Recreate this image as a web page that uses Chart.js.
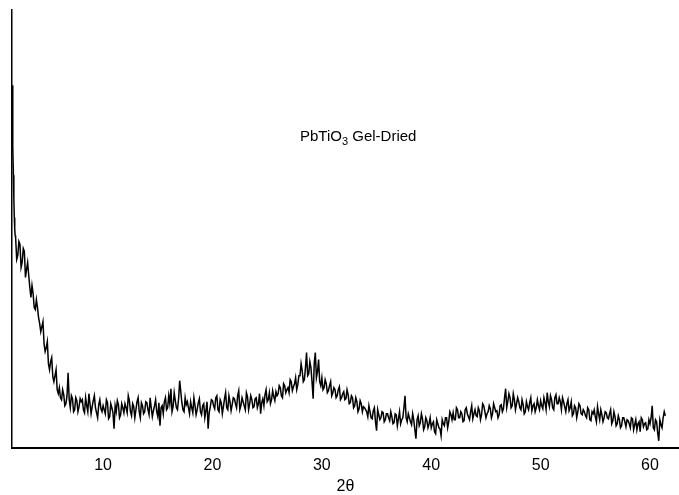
<!DOCTYPE html>
<html>
<head>
<meta charset="utf-8">
<script src="https://cdn.jsdelivr.net/npm/chart.js@4.4.1/dist/chart.umd.min.js"></script>
<style>
  html, body { margin: 0; padding: 0; background: #ffffff; }
  #wrap { position: relative; width: 679px; height: 495px; }
</style>
</head>
<body>
<div id="wrap"><canvas id="xrdChart"></canvas></div>
<script>
// Steep low-angle tail right at the axis
const headTheta = [1.68, 1.72, 1.76, 1.80, 1.84, 1.88, 1.92, 1.96];
const headCounts = [362, 330, 300, 272, 248, 230, 218, 212];

// Main scan, read every 0.2 deg from 2.0 deg
const scanStart = 2.0;
const scanStep = 0.2;
const scanCounts = [
  210, 192, 203, 185, 196, 178, 172, 150, 154, 138,   // 2.0 - 3.8
  140, 124, 121, 104, 100, 84, 86, 71, 72, 58,        // 4.0 - 5.8
  60, 48, 53, 44, 75, 40, 49, 38, 47, 41,             // 6.0 - 7.8
  46, 38, 50, 36, 44, 41, 52, 35, 43, 39,             // 8.0 - 9.8
  42, 34, 45, 31, 40, 19, 36, 43, 33, 40,             // 10.0 - 11.8
  44, 35, 47, 32, 41, 38, 50, 30, 42, 36,             // 12.0 - 13.8
  45, 33, 40, 37, 48, 31, 22, 42, 46, 38,             // 14.0 - 15.8
  52, 59, 41, 47, 38, 67, 45, 36, 43, 40,             // 16.0 - 17.8
  46, 35, 42, 38, 49, 33, 44, 37, 19, 41,             // 18.0 - 19.8
  47, 39, 52, 36, 45, 41, 55, 38, 46, 43,             // 20.0 - 21.8
  49, 40, 57, 42, 46, 38, 51, 44, 48, 41,             // 22.0 - 23.8
  50, 44, 34, 49, 53, 46, 55, 48, 51, 56,             // 24.0 - 25.8
  54, 60, 50, 62, 58, 55, 66, 61, 70, 63,             // 26.0 - 27.8
  72, 77, 68, 95, 74, 80, 49, 95, 76, 66,             // 28.0 - 29.8
  70, 60, 64, 57, 66, 55, 58, 52, 61, 50,             // 30.0 - 31.8
  56, 49, 53, 45, 50, 42, 46, 39, 44, 41,             // 32.0 - 33.8
  38, 31, 36, 29, 40, 17, 33, 30, 35, 28,             // 34.0 - 35.8
  34, 27, 31, 25, 33, 29, 24, 30, 52, 26,             // 36.0 - 37.8
  30, 23, 28, 9, 32, 25, 29, 21, 27, 24,              // 38.0 - 39.8
  20, 26, 14, 24, 19, 28, 22, 30, 26, 33,             // 40.0 - 41.8
  35, 28, 38, 30, 34, 27, 40, 31, 36, 29,             // 42.0 - 43.8
  38, 31, 37, 33, 42, 30, 36, 39, 34, 40,             // 44.0 - 45.8
  37, 33, 43, 39, 59, 46, 50, 42, 48, 44,             // 46.0 - 47.8
  46, 38, 43, 36, 41, 45, 37, 44, 40, 42,             // 48.0 - 49.8
  47, 39, 45, 55, 41, 48, 38, 53, 44, 46,             // 50.0 - 51.8
  50, 41, 44, 37, 46, 34, 40, 36, 42, 33,             // 52.0 - 53.8
  36, 30, 38, 27, 34, 31, 41, 28, 33, 30,             // 54.0 - 55.8
  35, 29, 38, 27, 31, 24, 28, 22, 30, 21,             // 56.0 - 57.8
  27, 20, 29, 23, 18, 26, 30, 21, 25, 19,             // 58.0 - 59.8
  24, 42, 18, 26, 7, 23, 30, 32                       // 60.0 - 61.4
];

// In-between readings, every 0.2 deg from 2.1 deg
const midStart = 2.1;
const midCounts = [
  188, 206, 180, 199, 170, 185, 160, 162, 140, 148,   // 2.1 - 3.9
  130, 116, 126, 96, 106, 78, 90, 66, 78, 54,         // 4.1 - 5.9
  50, 58, 42, 52, 48, 52, 36, 50, 36, 49,             // 6.1 - 7.9
  48, 35, 42, 54, 34, 47, 40, 30, 48, 36,             // 8.1 - 9.9
  38, 48, 29, 44, 35, 42, 47, 30, 44, 35,             // 10.1 - 11.9
  40, 52, 36, 44, 30, 46, 36, 45, 34, 46,             // 12.1 - 13.9
  38, 50, 31, 42, 36, 45, 40, 34, 50, 40,             // 14.1 - 15.9
  44, 36, 55, 40, 49, 56, 38, 50, 46, 34,             // 16.1 - 17.9
  40, 50, 33, 45, 36, 42, 30, 46, 35, 48,             // 18.1 - 19.9
  42, 50, 38, 48, 34, 49, 40, 52, 37, 50,             // 20.1 - 21.9
  44, 52, 38, 50, 42, 55, 38, 52, 40, 49,             // 22.1 - 23.9
  40, 54, 45, 42, 58, 48, 44, 57, 47, 52,             // 24.1 - 25.9
  62, 52, 64, 55, 60, 68, 57, 64, 58, 72,             // 26.1 - 27.9
  84, 66, 80, 72, 86, 66, 84, 70, 88, 62,             // 28.1 - 29.9
  58, 68, 55, 62, 52, 60, 50, 58, 48, 54,             // 30.1 - 31.9
  48, 58, 44, 52, 40, 50, 36, 47, 36, 40,             // 32.1 - 33.9
  36, 42, 30, 37, 26, 38, 28, 36, 26, 34,             // 34.1 - 35.9
  30, 36, 24, 34, 22, 36, 28, 40, 30, 34,             // 36.1 - 37.9
  26, 34, 18, 28, 22, 34, 18, 30, 20, 30,             // 38.1 - 39.9
  24, 16, 28, 20, 12, 24, 30, 20, 36, 28,             // 40.1 - 41.9
  28, 40, 30, 36, 26, 38, 34, 28, 42, 34,             // 42.1 - 43.9
  32, 40, 28, 44, 36, 34, 42, 30, 44, 36,             // 44.1 - 45.9
  30, 42, 36, 50, 40, 54, 40, 54, 38, 50,             // 46.1 - 47.9
  40, 48, 34, 46, 38, 50, 42, 36, 48, 38,             // 48.1 - 49.9
  42, 50, 38, 46, 52, 40, 50, 44, 50, 38,             // 50.1 - 51.9
  46, 36, 48, 40, 32, 42, 30, 44, 34, 38,             // 52.1 - 53.9
  32, 40, 28, 36, 38, 26, 34, 38, 26, 36,             // 54.1 - 55.9
  30, 34, 24, 36, 22, 32, 20, 30, 26, 28,             // 56.1 - 57.9
  24, 30, 18, 28, 24, 16, 28, 24, 18, 28,             // 58.1 - 59.9
  30, 20, 28, 15, 28, 20, 36                          // 60.1 - 61.3
];

const xTicks = [10, 20, 30, 40, 50, 60];
const xAxisTitle = '2θ';
const sampleName = ['PbTiO', '3', ' Gel-Dried'];

const FONT = '"Liberation Sans", Arial, sans-serif';

// Build point list, merged and sorted by angle
const points = headTheta.map((t, i) => ({ x: t, y: headCounts[i] }));
scanCounts.forEach((c, i) => {
  points.push({ x: +(scanStart + i * scanStep).toFixed(2), y: c });
});
midCounts.forEach((c, i) => {
  points.push({ x: +(midStart + i * scanStep).toFixed(2), y: c });
});
points.sort((a, b) => a.x - b.x);

// Label with a subscript, drawn inside the plot
const sampleLabel = {
  id: 'sampleLabel',
  afterDraw(chart) {
    const c = chart.ctx;
    let x = 300;
    const y = 141;
    c.save();
    c.fillStyle = '#000';
    c.textBaseline = 'alphabetic';
    c.font = '15px ' + FONT;
    c.fillText(sampleName[0], x, y);
    x += c.measureText(sampleName[0]).width;
    c.font = '11px ' + FONT;
    c.fillText(sampleName[1], x, y + 4);
    x += c.measureText(sampleName[1]).width;
    c.font = '15px ' + FONT;
    c.fillText(sampleName[2], x, y);
    c.restore();
  }
};

const ctx = document.getElementById('xrdChart');
new Chart(ctx, {
  type: 'line',
  data: {
    datasets: [{
      data: points,
      borderColor: '#000',
      borderWidth: 1.5,
      pointRadius: 0,
      tension: 0,
      fill: false
    }]
  },
  options: {
    responsive: true,
    maintainAspectRatio: false,
    animation: false,
    layout: { padding: { left: 12, top: 10, right: 0, bottom: 0 } },
    plugins: {
      legend: { display: false },
      tooltip: { enabled: false }
    },
    scales: {
      x: {
        type: 'linear',
        min: 1.67,
        max: 62.65,
        afterBuildTicks(axis) {
          axis.ticks = xTicks.map(v => ({ value: v }));
        },
        grid: { display: false, drawTicks: false },
        border: { display: true, color: '#000', width: 2 },
        ticks: {
          color: '#000',
          font: { family: FONT, size: 16 },
          padding: 8,
          maxRotation: 0
        },
        title: {
          display: true,
          text: xAxisTitle,
          color: '#000',
          font: { family: FONT, size: 16, lineHeight: 1 },
          padding: { top: -4, bottom: 0 }
        }
      },
      y: {
        min: 0,
        max: 437,
        grid: { display: false, drawTicks: false },
        border: { display: true, color: '#000', width: 1.5 },
        ticks: { display: false }
      }
    }
  },
  plugins: [sampleLabel]
});
</script>
</body>
</html>
